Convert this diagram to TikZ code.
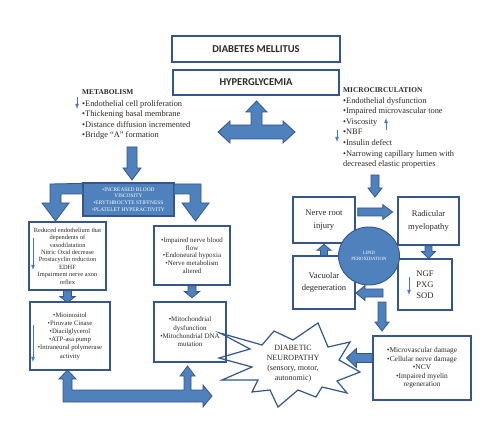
\documentclass[tikz,border=0pt]{standalone}
\usepackage{amsmath, amssymb}
\usepackage{fontspec}
\setmainfont{Liberation Serif}
\newfontfamily\titlefont{Carlito}
\usepackage{tikz}
\usetikzlibrary{shapes.geometric,calc}

% block arrow: start, angle, length, shaft half width, head half width, head length
\newcommand{\blockarrow}[6]{%
	\filldraw[arrow body,shift={#1},rotate=#2] (0,-#4) -- ({#3-#6},-#4) -- ({#3-#6},-#5) -- (#3,0) -- ({#3-#6},#5) -- ({#3-#6},#4) -- (0,#4) -- cycle;}

\begin{document}
\begin{tikzpicture}
		[x=1pt,y=-1pt,line join=miter,
		%Styles
		box/.style={draw=boxcolor,line width=1.3pt,align=center,inner sep=1pt,text=textcolor},
		title box/.style={box,line width=1.6pt,font=\titlefont\bfseries\fontsize{10.5}{12}\selectfont},
		list text/.style={align=left,anchor=north west,inner sep=0pt,text=textcolor,font=\fontsize{8.4}{10.6}\selectfont},
		arrow body/.style={fill=arrowfill,draw=arrowline,line width=0.8pt},
		marker/.style={-latex,draw=markblue,line width=0.8pt}
		]
		
		%Colors
		\definecolor{boxcolor}{RGB}{52,86,140}
		\definecolor{arrowfill}{RGB}{79,129,189}
		\definecolor{arrowline}{RGB}{52,86,140}
		\definecolor{markblue}{RGB}{70,120,200}
		\definecolor{textcolor}{RGB}{45,40,35}
		
		\useasboundingbox (0,0) rectangle (500,443);
		
		%The graphic
		\node[title box,minimum width=168,minimum height=26] (dm) at (256,49) {DIABETES MELLITUS};
		\node[title box,minimum width=166,minimum height=25] (hyper) at (256,82.5) {HYPERGLYCEMIA};
		
		\node[list text] (metab) at (82,89) {{\bfseries\fontsize{7.4}{9}\selectfont METABOLISM}\\[1.5pt]
			•Endothelial cell proliferation\\•Thickening basal membrane\\•Distance diffusion incremented\\•Bridge “A” formation};
		\draw[marker] (77,97) -- (77,109);
		
		\node[list text] (micro) at (343,87) {{\bfseries\fontsize{7.4}{9}\selectfont MICROCIRCULATION}\\[0.5pt]
			•Endothelial dysfunction\\•Impaired microvascular tone\\•Viscosity\\•NBF\\•Insulin defect\\•Narrowing capillary lumen with\\decreased elastic properties};
		\draw[marker] (386,130) -- (386,118);
		\draw[marker] (337,130) -- (337,142);
		
		% T arrow under hyperglycemia
		\filldraw[arrow body] (218,132) -- (230,121) -- (230,125) -- (251,125) -- (251,112) -- (246,112) -- (256.5,101) -- (267,112) -- (262,112) -- (262,125) -- (283,125) -- (283,121) -- (295,132) -- (283,143) -- (283,139) -- (230,139) -- (230,143) -- cycle;
		
		% left column
		\blockarrow{(132,147)}{-90}{33}{5}{9}{12}
		\node[box,fill=arrowfill,draw=arrowline,text=white,minimum width=91,minimum height=33,font=\fontsize{5.4}{6.8}\selectfont] (incr) at (128.5,199.5)
			{•INCREASED BLOOD\\VISCOSITY\\•ERYTHROCYTE STIFFNESS\\•PLATELET HYPERACTIVITY};
		\filldraw[arrow body] (incr.north west) ++(0,1) -- (50,184) -- (50,203) -- (42,203) -- (55.5,221) -- (69,203) -- (61,203) -- (61,194) -- (83,194) -- cycle;
		\filldraw[arrow body] (174,184) -- (201,184) -- (201,203) -- (209,203) -- (195.5,221) -- (182,203) -- (190,203) -- (190,194) -- (174,194) -- cycle;
		
		\node[box,minimum width=77,minimum height=68,font=\fontsize{6.4}{7.4}\selectfont] (reduced) at (67.5,256)
			{Reduced endothelium that\\dependents of\\vasodilatation\\Nitric Oxid decrease\\Prostacyclin reduction\\EDHF\\Impairment nerve axon\\reflex};
		\draw[marker] (33,238) -- (33,270);
		\node[box,minimum width=76,minimum height=59,font=\fontsize{6.9}{7.6}\selectfont] (impaired) at (192,255.5)
			{•Impaired nerve blood\\flow\\•Endoneural hypoxia\\•Nerve metabolism\\altered};
		
		\blockarrow{(reduced.south)}{-90}{12}{4}{7.5}{6}
		\blockarrow{(impaired.south)}{-90}{12}{4}{7.5}{6}
		
		% neuropathy star
		\filldraw[draw=boxcolor,fill=white,line width=1.2pt] (220,333) -- (262,345) -- (274,331) -- (293,340) -- (318,323) -- (328,347) -- (350,342) -- (339,360) -- (360,372) -- (337,381) -- (347,393) -- (322,387) -- (316,397) -- (298,390) -- (278,407) -- (270,390) -- (252,392) -- (258,380) -- (222,380) -- (252,367) -- (219,358) -- (250,349) -- cycle;
		\node[align=center,inner sep=0pt,text=textcolor,font=\fontsize{8}{10}\selectfont] (neuro) at (293,364)
			{DIABETIC\\NEUROPATHY\\(sensory, motor,\\autonomic)};
		
		\node[box,minimum width=80,minimum height=68,font=\fontsize{6.7}{8.2}\selectfont] (mioino) at (70,336)
			{•Mioinositol\\•Piruvate Cinase\\•Diacilglycerol\\•ATP-asa pump\\•Intraneural polymerase\\activity};
		\draw[marker] (33,325) -- (33,362);
		\node[box,minimum width=72,minimum height=60,font=\fontsize{7}{8.3}\selectfont] (mito) at (190,332)
			{•Mitochondrial\\dysfunction\\•Mitochondrial DNA\\mutation};
		
		% bottom L arrow
		\filldraw[arrow body] (63,402) -- (63,379) -- (59,379) -- (67.5,370) -- (76,379) -- (72,379) -- (72,390) -- (184,390) -- (184,376) -- (180,376) -- (187.5,366) -- (195,376) -- (191,376) -- (191,390) -- (203,390) -- (203,385) -- (212,396) -- (203,407) -- (203,402) -- cycle;
		
		% right cycle
		\blockarrow{(375,175)}{-90}{22}{4}{7}{9}
		\node[box,minimum width=62,minimum height=46,font=\fontsize{8.6}{12.5}\selectfont] (rootinj) at (324,220) {Nerve root\\injury};
		\node[box,minimum width=61,minimum height=48,font=\fontsize{8.6}{12.5}\selectfont] (radmyel) at (428.5,221) {Radicular\\myelopathy};
		\node[box,minimum width=62,minimum height=53,font=\fontsize{8.6}{12.5}\selectfont] (vacuolar) at (324,282.5) {Vacuolar\\degeneration};
		\node[box,align=left,minimum width=54,minimum height=51,font=\fontsize{8.6}{10.8}\selectfont] (ngf) at (425,284.5) {NGF\\PXG\\SOD};
		\draw[marker] (409,277) -- (409,295);
		
		\blockarrow{($(rootinj.east)+(2,-8)$)}{0}{35}{4}{7.5}{10}
		\blockarrow{(vacuolar.north)}{90}{11}{3.5}{7}{6}
		\blockarrow{(radmyel.south)}{-90}{13}{3.5}{7}{7}
		\blockarrow{(383,293)}{180}{27}{4}{7.5}{9}
		\blockarrow{(382,302)}{-90}{29}{4}{7}{9}
		
		\node[ellipse,fill=arrowfill,draw=arrowline,line width=0.9pt,minimum width=61,minimum height=58,inner sep=0pt,align=center,text=white,font=\fontsize{4.8}{6.5}\selectfont] (lipid) at (369,256) {LIPID\\PEROXIDATION};
		
		\node[box,minimum width=98,minimum height=64,font=\fontsize{7.4}{8.5}\selectfont] (microvasc) at (422,368)
			{•Microvascular damage\\•Cellular nerve damage\\•NCV\\•Impaired myelin\\regeneration};
		\blockarrow{($(microvasc.west)+(0,-10)$)}{180}{26}{4.5}{9.5}{10}
\end{tikzpicture}
\end{document}
